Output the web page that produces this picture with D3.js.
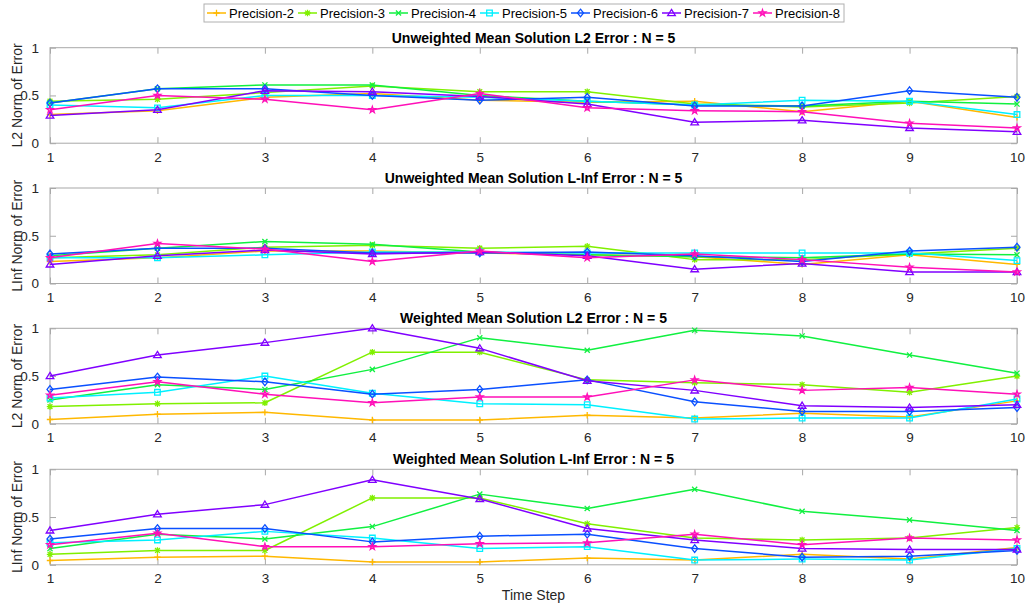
<!DOCTYPE html>
<html><head><meta charset="utf-8">
<script src="https://cdn.jsdelivr.net/npm/d3@7"></script>
<style>body{margin:0;background:#fff}svg{display:block;font-family:"Liberation Sans",Arial,Helvetica,sans-serif}</style>
</head><body><svg id="c" width="1028" height="607"></svg>
<script>
const timeSteps = [1,2,3,4,5,6,7,8,9,10];
const seriesNames = ["Precision-2","Precision-3","Precision-4","Precision-5","Precision-6","Precision-7","Precision-8"];
const panelTitles = [
  "Unweighted Mean Solution L2 Error  : N = 5",
  "Unweighted Mean Solution L-Inf Error : N = 5",
  "Weighted Mean Solution L2 Error : N = 5",
  "Weighted Mean Solution L-Inf Error : N = 5"
];
const yLabels = ["L2 Norm of Error","LInf Norm of Error","L2 Norm of Error","LInf Norm of Error"];
const yTicks = [0,0.5,1];

// Panel 1: Unweighted L2
const unweightedL2 = [
  [0.30,0.34,0.48,0.52,0.45,0.43,0.44,0.33,0.44,0.27],
  [0.44,0.46,0.53,0.60,0.54,0.54,0.41,0.38,0.42,0.49],
  [0.42,0.57,0.61,0.61,0.50,0.44,0.40,0.39,0.44,0.41],
  [0.40,0.37,0.50,0.50,0.48,0.44,0.40,0.45,0.44,0.30],
  [0.42,0.57,0.57,0.50,0.45,0.48,0.39,0.39,0.55,0.48],
  [0.29,0.35,0.55,0.54,0.49,0.41,0.22,0.24,0.16,0.12],
  [0.35,0.50,0.46,0.35,0.52,0.37,0.34,0.33,0.21,0.16]
];
// Panel 2: Unweighted L-Inf
const unweightedLinf = [
  [0.23,0.27,0.34,0.34,0.32,0.30,0.28,0.20,0.30,0.20],
  [0.27,0.30,0.38,0.40,0.37,0.39,0.25,0.25,0.31,0.37],
  [0.29,0.37,0.44,0.41,0.33,0.30,0.28,0.27,0.31,0.30],
  [0.27,0.27,0.30,0.33,0.33,0.32,0.32,0.32,0.32,0.24],
  [0.31,0.37,0.37,0.32,0.32,0.33,0.29,0.23,0.34,0.38],
  [0.20,0.29,0.35,0.31,0.33,0.29,0.15,0.21,0.12,0.12],
  [0.27,0.42,0.36,0.23,0.34,0.27,0.31,0.25,0.17,0.12]
];
// Panel 3: Weighted L2
const weightedL2 = [
  [0.045,0.10,0.12,0.04,0.04,0.09,0.06,0.11,0.07,0.24],
  [0.18,0.21,0.22,0.75,0.75,0.46,0.43,0.41,0.33,0.50],
  [0.25,0.41,0.36,0.57,0.90,0.77,0.98,0.92,0.72,0.53],
  [0.27,0.33,0.50,0.32,0.21,0.20,0.05,0.06,0.06,0.26],
  [0.36,0.49,0.44,0.31,0.36,0.46,0.23,0.13,0.13,0.17],
  [0.50,0.72,0.85,1.00,0.79,0.45,0.35,0.19,0.17,0.20],
  [0.30,0.44,0.31,0.22,0.28,0.28,0.46,0.35,0.38,0.31]
];
// Panel 4: Weighted L-Inf
const weightedLinf = [
  [0.045,0.08,0.09,0.03,0.03,0.07,0.05,0.11,0.06,0.18],
  [0.11,0.15,0.15,0.70,0.70,0.43,0.28,0.26,0.28,0.39],
  [0.17,0.32,0.27,0.40,0.74,0.59,0.79,0.56,0.47,0.36],
  [0.23,0.26,0.35,0.28,0.17,0.19,0.05,0.06,0.05,0.17],
  [0.27,0.38,0.38,0.24,0.30,0.32,0.17,0.08,0.09,0.15],
  [0.36,0.53,0.63,0.89,0.69,0.38,0.26,0.17,0.16,0.16],
  [0.21,0.33,0.19,0.19,0.22,0.23,0.32,0.21,0.28,0.26]
];

const panelsData = [unweightedL2, unweightedLinf, weightedL2, weightedLinf];
const colors = ["#ffb800","#80f000","#10f040","#00f0ff","#0a50ff","#8000ff","#ff10b8"];
const markers = ["plus","asterisk","x","square","diamond","triangle","star"];

const svg = d3.select("#c");
const axisColor = "#a8a8a8";
const textColor = "#262626";
const left = 50, right = 1017;
const tops = [47.7, 188, 328.3, 469.3];
const ph = 95.5;

const x = d3.scaleLinear().domain([1,10]).range([left,right]);

function markerPath(type){
  const s = 3.2;
  switch(type){
    case "plus": return `M${-s},0L${s},0M0,${-s}L0,${s}`;
    case "x": return `M${-s*0.8},${-s*0.8}L${s*0.8},${s*0.8}M${-s*0.8},${s*0.8}L${s*0.8},${-s*0.8}`;
    case "asterisk": { const d=s*0.75; return `M${-s},0L${s},0M0,${-s}L0,${s}M${-d},${-d}L${d},${d}M${-d},${d}L${d},${-d}`; }
    case "square": return `M-2.8,-2.8H2.8V2.8H-2.8Z`;
    case "diamond": return `M0,-3.8L3,0L0,3.8L-3,0Z`;
    case "triangle": return `M0,-3.6L3.8,2.6L-3.8,2.6Z`;
    case "star": return d3.symbol(d3.symbolStar, 13)();
  }
}

panelsData.forEach((data, pi) => {
  const top = tops[pi], bottom = top + ph;
  const y = d3.scaleLinear().domain([0,1]).range([bottom, top]);
  const g = svg.append("g");

  g.append("rect").attr("x",left).attr("y",top).attr("width",right-left).attr("height",ph)
    .attr("fill","none").attr("stroke",axisColor).attr("stroke-width",1);

  const xAxisB = d3.axisBottom(x).tickValues(timeSteps).tickSize(-6).tickPadding(9).tickFormat(d3.format("d"));
  const gb = g.append("g").attr("transform",`translate(0,${bottom})`).call(xAxisB);
  const xAxisT = d3.axisTop(x).tickValues(timeSteps).tickSize(-6).tickFormat("");
  const gt = g.append("g").attr("transform",`translate(0,${top})`).call(xAxisT);
  const yAxisL = d3.axisLeft(y).tickValues(yTicks).tickSize(-6).tickPadding(11).tickFormat(d => d===0.5?"0.5":d3.format("d")(d));
  const gl = g.append("g").attr("transform",`translate(${left},0)`).call(yAxisL);
  const yAxisR = d3.axisRight(y).tickValues(yTicks).tickSize(-6).tickFormat("");
  const gr = g.append("g").attr("transform",`translate(${right},0)`).call(yAxisR);
  [gb,gt,gl,gr].forEach(a => {
    a.select(".domain").remove();
    a.selectAll(".tick line").attr("stroke",axisColor);
    a.selectAll(".tick text").attr("fill",textColor).style("font-size","13.5px")
      .style("font-family","Liberation Sans, Arial, sans-serif");
  });

  g.append("text").attr("x",(left+right)/2).attr("y",top-5).attr("text-anchor","middle")
    .style("font-weight","bold").style("font-size","14px").attr("fill","#000").text(panelTitles[pi]);

  g.append("text").attr("transform",`translate(22,${(top+bottom)/2}) rotate(-90)`)
    .attr("text-anchor","middle").style("font-size","14px").attr("fill",textColor).text(yLabels[pi]);

  const line = d3.line().x((d,i)=>x(timeSteps[i])).y(d=>y(d));
  data.forEach((vals, si) => {
    g.append("path").attr("d", line(vals)).attr("fill","none")
      .attr("stroke",colors[si]).attr("stroke-width",1.5).attr("stroke-linejoin","round");
    g.selectAll(null).data(vals).enter().append("path")
      .attr("transform",(d,i)=>`translate(${x(timeSteps[i])},${y(d)})`)
      .attr("d", markerPath(markers[si]))
      .attr("fill","none").attr("stroke",colors[si]).attr("stroke-width",1.3);
  });
});

svg.append("text").attr("x",(left+right)/2).attr("y",600).attr("text-anchor","middle")
  .style("font-size","14px").attr("fill",textColor).text("Time Step");

const lg = svg.append("g");
lg.append("rect").attr("x",204).attr("y",4).attr("width",640).attr("height",18)
  .attr("fill","#fff").attr("stroke","#b0b0b0").attr("stroke-width",1);
const itemX = d3.scaleLinear().domain([0,6]).range([207,753]);
seriesNames.forEach((name, si) => {
  const x0 = itemX(si);
  lg.append("line").attr("x1",x0).attr("x2",x0+19).attr("y1",13).attr("y2",13)
    .attr("stroke",colors[si]).attr("stroke-width",1.5);
  lg.append("path").attr("transform",`translate(${x0+9.5},13)`).attr("d",markerPath(markers[si]))
    .attr("fill","none").attr("stroke",colors[si]).attr("stroke-width",1.3);
  lg.append("text").attr("x",x0+22).attr("y",17.5).style("font-size","13px").attr("fill","#000").text(name);
});
</script></body></html>
